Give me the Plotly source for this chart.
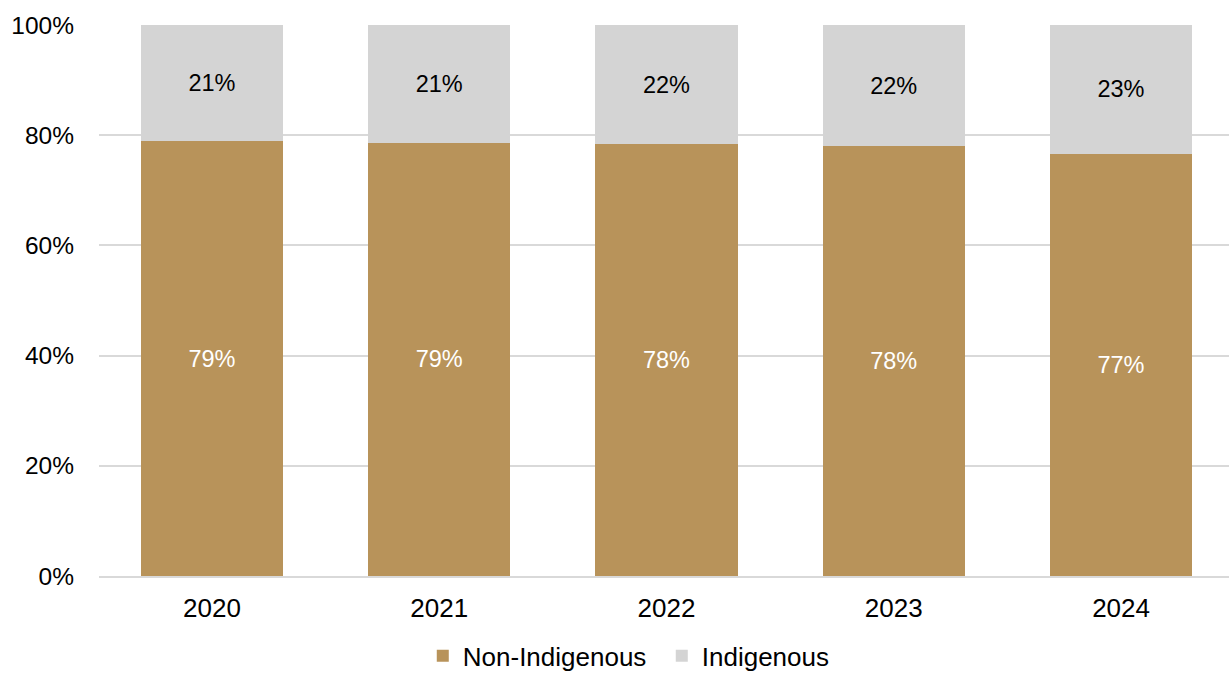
import plotly.graph_objects as go

years = ["2020", "2021", "2022", "2023", "2024"]
non_indigenous = [78.9, 78.6, 78.4, 78.0, 76.6]
indigenous = [21.1, 21.4, 21.6, 22.0, 23.4]
non_labels = ["79%", "79%", "78%", "78%", "77%"]
ind_labels = ["21%", "21%", "22%", "22%", "23%"]

font = "Liberation Sans, Arial, sans-serif"

fig = go.Figure()
fig.add_trace(go.Bar(
    x=years, y=non_indigenous, name="Non-Indigenous", width=0.625,
    marker=dict(color="#B8935A", line=dict(width=0)),
    text=non_labels, textposition="inside", insidetextanchor="middle",
    textfont=dict(color="white", size=23.5, family=font),
    hoverinfo="skip",
))
fig.add_trace(go.Bar(
    x=years, y=indigenous, name="Indigenous", width=0.625,
    marker=dict(color="#D4D4D4", line=dict(width=0)),
    text=ind_labels, textposition="inside", insidetextanchor="middle",
    textfont=dict(color="black", size=23.5, family=font),
    hoverinfo="skip",
))

fig.update_layout(
    barmode="stack",
    width=1229, height=674,
    margin=dict(l=99, r=0, t=25, b=98, autoexpand=False),
    paper_bgcolor="white", plot_bgcolor="white",
    font=dict(family=font, size=24, color="black"),
    showlegend=True,
    legend=dict(
        orientation="h", xref="container", yref="paper",
        x=0.344, xanchor="left", y=-0.145, yanchor="middle",
        font=dict(size=26, family=font, color="black"),
        traceorder="normal", itemwidth=30, tracegroupgap=0,
        entrywidth=194,
    ),
    xaxis=dict(
        range=[-0.497, 4.475],
        showline=True, linecolor="#D9D9D9", linewidth=2,
        ticks="", tickfont=dict(size=26), ticklabelstandoff=8,
    ),
    yaxis=dict(
        range=[0, 100], tickvals=[0, 20, 40, 60, 80, 100],
        ticktext=["0%", "20%", "40%", "60%", "80%", "100%"],
        showgrid=True, gridcolor="#D9D9D9", gridwidth=2,
        zeroline=False, showline=False, ticks="",
        tickfont=dict(size=24.5), ticklabelstandoff=24,
    ),
)

fig.write_html("out.html")
